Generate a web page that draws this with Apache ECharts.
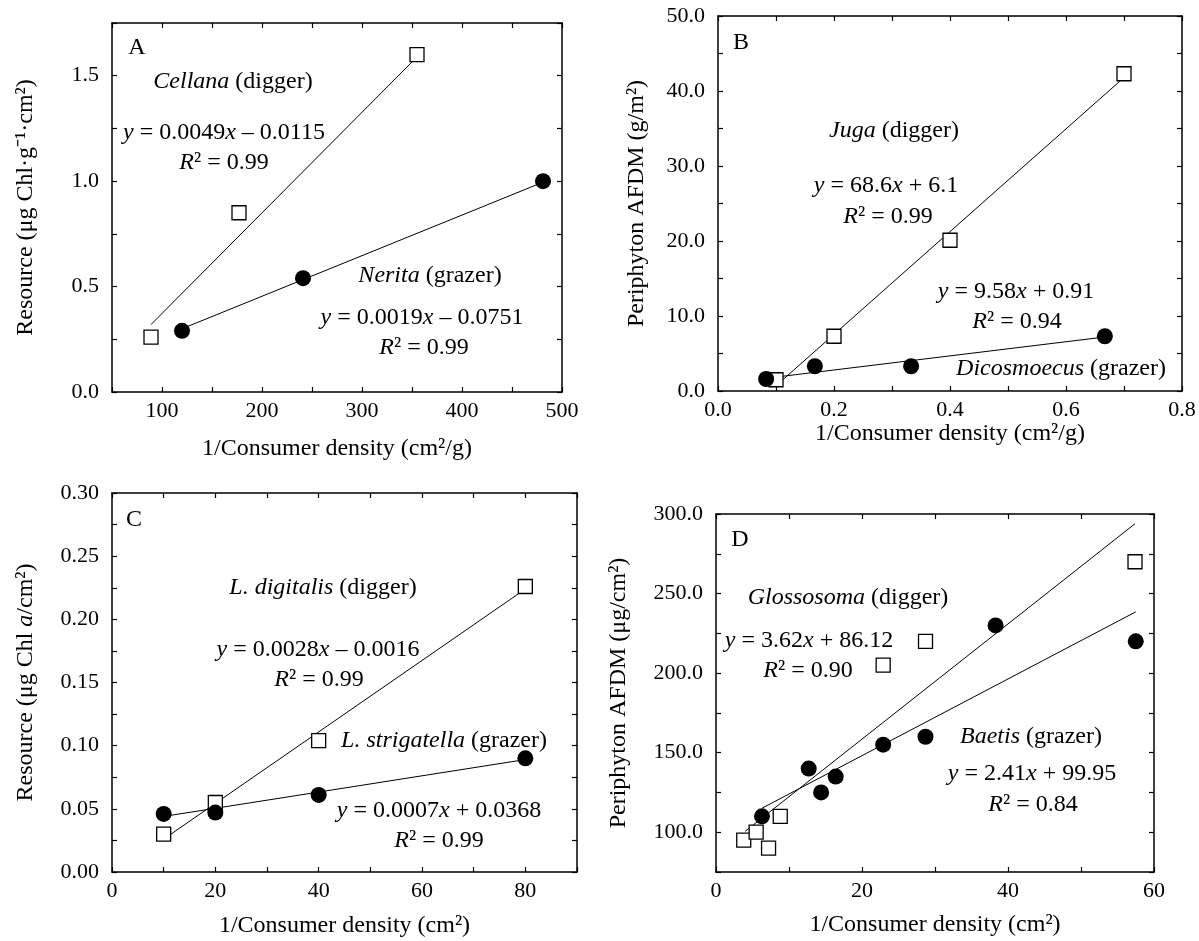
<!DOCTYPE html>
<html>
<head>
<meta charset="utf-8">
<script src="https://cdn.jsdelivr.net/npm/echarts@6/dist/echarts.min.js"></script>
<style>html,body{margin:0;padding:0;background:#fff}#c{width:1199px;height:941px}</style>
</head>
<body>
<div id="c"></div>
<script>
// ---------- Panel A ----------
const cellanaPts = [[89, 0.26], [177, 0.85], [355, 1.60]];
const neritaPts = [[120, 0.29], [241, 0.54], [481, 1.00]];
const cellanaFit = [[89, 0.32], [351, 1.57]];
const neritaFit = [[120, 0.30], [481, 0.995]];
const aXTicks = [100, 200, 300, 400, 500];
const aYTicks = [0, 0.5, 1.0, 1.5];
// ---------- Panel B ----------
const jugaPts = [[0.10, 1.5], [0.20, 7.3], [0.40, 20.1], [0.70, 42.3]];
const dicoPts = [[0.083, 1.6], [0.167, 3.3], [0.333, 3.3], [0.667, 7.3]];
const jugaFit = [[0.10, 0.7], [0.70, 41.8]];
const dicoFit = [[0.083, 1.7], [0.667, 7.2]];
const bXTicks = [0, 0.2, 0.4, 0.6, 0.8];
const bYTicks = [0, 10, 20, 30, 40, 50];
// ---------- Panel C ----------
const digitalisPts = [[10, 0.030], [20, 0.055], [40, 0.104], [80, 0.226]];
const strigatellaPts = [[10, 0.046], [20, 0.047], [40, 0.061], [80, 0.090]];
const digitalisFit = [[10, 0.026], [80, 0.224]];
const strigatellaFit = [[10, 0.044], [80, 0.089]];
const cXTicks = [0, 20, 40, 60, 80];
const cYTicks = [0, 0.05, 0.10, 0.15, 0.20, 0.25, 0.30];
// ---------- Panel D ----------
const glossoPts = [[3.8, 95], [5.5, 100], [7.2, 90], [8.8, 110], [22.9, 205], [28.7, 220], [57.4, 270]];
const baetisPts = [[6.3, 110], [12.7, 140], [14.4, 125], [16.4, 135], [22.9, 155], [28.7, 160], [38.3, 230], [57.5, 220]];
const glossoFit = [[4.0, 100.6], [57.4, 293.9]];
const baetisFit = [[6.3, 115.1], [57.5, 238.5]];
const dXTicks = [0, 20, 40, 60];
const dYTicks = [100, 150, 200, 250, 300];

// pick an installed Times-like serif face
function pickFont() {
  const cands = ['Liberation Serif', 'Tinos', 'Times New Roman', 'Nimbus Roman', 'FreeSerif', 'DejaVu Serif'];
  const cv = document.createElement('canvas').getContext('2d');
  const s = 'mmmmmmmmmmlli1/Consumer density 0.0049';
  for (const f of cands) {
    let ok = false;
    for (const base of ['monospace', 'sans-serif']) {
      cv.font = '40px ' + base; const w0 = cv.measureText(s).width;
      cv.font = '40px "' + f + '", ' + base; const w1 = cv.measureText(s).width;
      if (Math.abs(w1 - w0) > 0.5) ok = true;
    }
    if (ok) return f;
  }
  return 'serif';
}
const FF = pickFont();
const TICK_FS = 22, TXT_FS = 24;

function fmt(list, d) {
  return function (v) {
    for (const t of list) if (Math.abs(t - v) < 1e-9) return v.toFixed(d);
    return '';
  };
}
const richBase = {
  i: { fontStyle: 'italic', fontFamily: FF, fontSize: TXT_FS, fill: '#000', color: '#000' }
};

const panels = [
  { grid: { left: 112, top: 23, width: 450, height: 369 },
    x: { min: 50, max: 500, interval: 50, ticks: aXTicks, d: 0, name: '1/Consumer density (cm²/g)', gap: 45 },
    y: { min: 0, max: 1.75, interval: 0.25, ticks: aYTicks, d: 1, name: 'Resource (μg Chl·g⁻¹·cm²)', gap: 74 },
    sq: cellanaPts, ci: neritaPts, sqFit: cellanaFit, ciFit: neritaFit },
  { grid: { left: 718, top: 16, width: 464, height: 375 },
    x: { min: 0, max: 0.8, interval: 0.1, ticks: bXTicks, d: 1, name: '1/Consumer density (cm²/g)', gap: 29 },
    y: { min: 0, max: 50, interval: 5, ticks: bYTicks, d: 1, name: 'Periphyton AFDM (g/m²)', gap: 69 },
    sq: jugaPts, ci: dicoPts, sqFit: jugaFit, ciFit: dicoFit },
  { grid: { left: 112, top: 493, width: 465, height: 379 },
    x: { min: 0, max: 90, interval: 10, ticks: cXTicks, d: 0, name: '1/Consumer density (cm²)', gap: 42 },
    y: { min: 0, max: 0.30, interval: 0.025, ticks: cYTicks, d: 2, name: 'Resource (μg Chl {i|a}/cm²)', gap: 74 },
    sq: digitalisPts, ci: strigatellaPts, sqFit: digitalisFit, ciFit: strigatellaFit },
  { grid: { left: 716, top: 514, width: 438, height: 358 },
    x: { min: 0, max: 60, interval: 10, ticks: dXTicks, d: 0, name: '1/Consumer density (cm²)', gap: 41 },
    y: { min: 75, max: 300, interval: 25, ticks: dYTicks, d: 1, name: 'Periphyton AFDM (μg/cm²)', gap: 85 },
    sq: glossoPts, ci: baetisPts, sqFit: glossoFit, ciFit: baetisFit }
];

const grids = [], xAxes = [], yAxes = [], series = [];
const lineStyle = { color: '#000', width: 1.5 };
panels.forEach(function (p, k) {
  grids.push(Object.assign({ containLabel: false }, p.grid));
  const common = function (a) {
    return { type: 'value', gridIndex: k, min: a.min, max: a.max, interval: a.interval,
      splitLine: { show: false },
      axisLine: { show: true, onZero: false, lineStyle: lineStyle },
      axisTick: { show: true, inside: true, length: 5, lineStyle: { color: '#000', width: 1.2 } } };
  };
  xAxes.push(Object.assign(common(p.x), {
    position: 'bottom',
    axisLabel: { formatter: fmt(p.x.ticks, p.x.d), margin: 8, color: '#000', fontFamily: FF, fontSize: TICK_FS, showMinLabel: true, showMaxLabel: true },
    name: p.x.name, nameLocation: 'middle', nameGap: p.x.gap,
    nameTextStyle: { color: '#000', fontFamily: FF, fontSize: TXT_FS }
  }));
  xAxes.push(Object.assign(common(p.x), { position: 'top', axisLabel: { show: false } }));
  yAxes.push(Object.assign(common(p.y), {
    position: 'left',
    axisLabel: { formatter: fmt(p.y.ticks, p.y.d), margin: 13, color: '#000', fontFamily: FF, fontSize: TICK_FS, showMinLabel: true, showMaxLabel: true },
    name: p.y.name, nameLocation: 'middle', nameGap: p.y.gap, nameRotate: 90,
    nameTextStyle: { color: '#000', fontFamily: FF, fontSize: TXT_FS, rich: { i: { fontStyle: 'italic', fontFamily: FF, fontSize: TXT_FS, color: '#000' } } }
  }));
  yAxes.push(Object.assign(common(p.y), { position: 'right', axisLabel: { show: false } }));
  const xi = 2 * k, yi = 2 * k;
  series.push({ type: 'line', xAxisIndex: xi, yAxisIndex: yi, data: p.sqFit, showSymbol: false, symbol: 'none',
    lineStyle: { color: '#000', width: 1 }, z: 2, silent: true });
  series.push({ type: 'line', xAxisIndex: xi, yAxisIndex: yi, data: p.ciFit, showSymbol: false, symbol: 'none',
    lineStyle: { color: '#000', width: 1 }, z: 2, silent: true });
  series.push({ type: 'scatter', xAxisIndex: xi, yAxisIndex: yi, data: p.sq, symbol: 'rect', symbolSize: 14,
    itemStyle: { color: '#fff', borderColor: '#000', borderWidth: 1.3, opacity: 1 }, z: 3 });
  series.push({ type: 'scatter', xAxisIndex: xi, yAxisIndex: yi, data: p.ci, symbol: 'circle', symbolSize: 16,
    itemStyle: { color: '#000', borderColor: '#000', borderWidth: 0, opacity: 1 }, z: 4 });
});

// annotations (pixel positions)
function t(x, y, text) {
  return { type: 'text', x: x, y: y, z: 100,
    style: { text: text, fill: '#000', fontFamily: FF, fontSize: TXT_FS,
      align: 'center', verticalAlign: 'middle', textAlign: 'center', textVerticalAlign: 'middle', rich: richBase } };
}
const notes = [
  t(137, 48, 'A'),
  t(233, 82, '{i|Cellana} (digger)'),
  t(224, 133, '{i|y} = 0.0049{i|x} – 0.0115'),
  t(224, 163, '{i|R}² = 0.99'),
  t(430, 276, '{i|Nerita} (grazer)'),
  t(422, 318, '{i|y} = 0.0019{i|x} – 0.0751'),
  t(424, 348, '{i|R}² = 0.99'),

  t(741, 43, 'B'),
  t(894, 131, '{i|Juga} (digger)'),
  t(886, 186, '{i|y} = 68.6{i|x} + 6.1'),
  t(888, 217, '{i|R}² = 0.99'),
  t(1016, 292, '{i|y} = 9.58{i|x} + 0.91'),
  t(1017, 322, '{i|R}² = 0.94'),
  t(1061, 369, '{i|Dicosmoecus} (grazer)'),

  t(134, 520, 'C'),
  t(323, 588, '{i|L. digitalis} (digger)'),
  t(318, 650, '{i|y} = 0.0028{i|x} – 0.0016'),
  t(319, 680, '{i|R}² = 0.99'),
  t(444, 741, '{i|L. strigatella} (grazer)'),
  t(439, 811, '{i|y} = 0.0007{i|x} + 0.0368'),
  t(439, 841, '{i|R}² = 0.99'),

  t(740, 540, 'D'),
  t(848, 598, '{i|Glossosoma} (digger)'),
  t(809, 641, '{i|y} = 3.62{i|x} + 86.12'),
  t(808, 671, '{i|R}² = 0.90'),
  t(1031, 737, '{i|Baetis} (grazer)'),
  t(1032, 774, '{i|y} = 2.41{i|x} + 99.95'),
  t(1033, 805, '{i|R}² = 0.84')
];

const chart = echarts.init(document.getElementById('c'), null, { renderer: 'canvas' });
chart.setOption({
  animation: false,
  backgroundColor: '#fff',
  textStyle: { fontFamily: FF, color: '#000' },
  grid: grids, xAxis: xAxes, yAxis: yAxes, series: series,
  graphic: notes
});
</script>
</body>
</html>
